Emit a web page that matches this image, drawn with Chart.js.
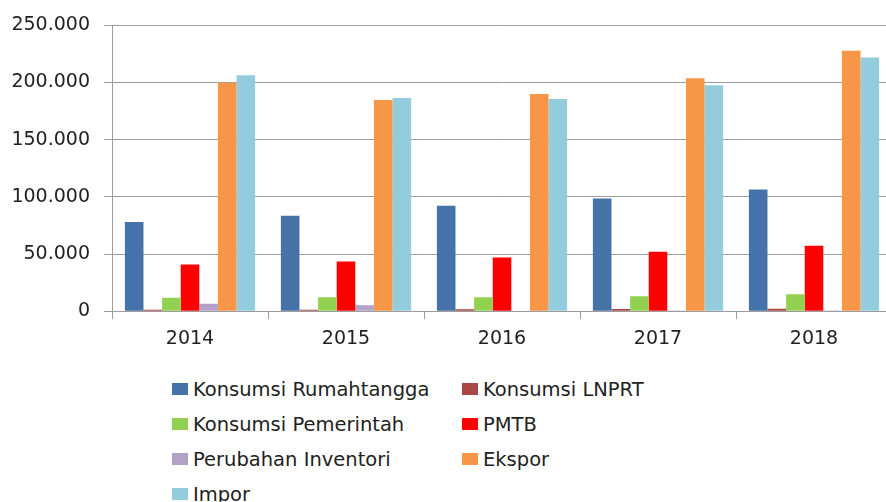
<!DOCTYPE html>
<html lang="id">
<head>
  <meta charset="UTF-8" />
  <title>Komponen PDRB 2014-2018</title>
  <script src="https://cdn.jsdelivr.net/npm/chart.js"></script>
  <style>
    html, body {
      margin: 0;
      padding: 0;
      background: #fff;
      overflow: hidden;
      font-family: "DejaVu Sans", sans-serif;
    }
    #grafik {
      position: absolute;
      left: 0;
      top: 0;
    }
    #legenda {
      position: absolute;
      left: 172px;
      top: 377px;
      display: grid;
      grid-template-columns: 290px 290px;
      grid-auto-rows: 35px;
      font-size: 19.5px;
      color: #222;
    }
    #legenda div {
      display: flex;
      align-items: center;
      height: 24px;
      white-space: nowrap;
    }
    #legenda span.kotak {
      display: inline-block;
      width: 16px;
      height: 12px;
      margin-right: 5px;
    }
  </style>
</head>
<body>
  <canvas id="grafik" width="900" height="360"></canvas>
  <div id="legenda"></div>

  <script>
    const tahun = ['2014', '2015', '2016', '2017', '2018'];

    const rumahtangga = [78000, 83500, 92300, 98600, 106500];
    const lnprt       = [1200, 1300, 1600, 2000, 2100];
    const pemerintah  = [11700, 12200, 12300, 13100, 14800];
    const pmtb        = [40800, 43400, 46900, 52100, 57300];
    const inventori   = [6500, 5200, 500, 700, 600];
    const ekspor      = [199900, 184800, 190000, 203700, 227800];
    const impor       = [206400, 186500, 185700, 197600, 222000];

    const seri = [
      { label: 'Konsumsi Rumahtangga', data: rumahtangga, warna: '#4572A7' },
      { label: 'Konsumsi LNPRT', data: lnprt, warna: '#AA4643' },
      { label: 'Konsumsi Pemerintah', data: pemerintah, warna: '#92D050' },
      { label: 'PMTB', data: pmtb, warna: '#FF0000' },
      { label: 'Perubahan Inventori', data: inventori, warna: '#B3A2C7' },
      { label: 'Ekspor', data: ekspor, warna: '#F79646' },
      { label: 'Impor', data: impor, warna: '#93CDDD' }
    ];

    const abu = '#9C9C9C';

    new Chart(document.getElementById('grafik'), {
      type: 'bar',
      data: {
        labels: tahun,
        datasets: seri.map(s => ({
          label: s.label,
          data: s.data,
          backgroundColor: s.warna,
          borderWidth: 0,
          categoryPercentage: 0.835,
          barPercentage: 1
        }))
      },
      options: {
        responsive: false,
        animation: false,
        layout: { padding: { top: 21, right: 8, bottom: 2, left: 0 } },
        plugins: {
          legend: { display: false },
          tooltip: { enabled: false }
        },
        scales: {
          x: {
            grid: {
              offset: true,
              drawOnChartArea: false,
              color: abu,
              tickLength: 8
            },
            border: { color: abu, width: 1 },
            ticks: {
              color: '#222',
              padding: 8,
              font: { family: 'DejaVu Sans', size: 19 }
            }
          },
          y: {
            min: 0,
            max: 250000,
            afterFit: s => { s.width = 112; },
            grid: { color: abu, tickLength: 8 },
            border: { color: abu, width: 1 },
            ticks: {
              stepSize: 50000,
              color: '#222',
              padding: 14,
              font: { family: 'DejaVu Sans', size: 19 },
              callback: v => v === 0 ? '0' : v.toLocaleString('id-ID')
            }
          }
        }
      }
    });

    // legenda dua kolom seperti di gambar
    const leg = document.getElementById('legenda');
    seri.forEach(s => {
      const d = document.createElement('div');
      d.innerHTML = `<span class="kotak" style="background:${s.warna}"></span>${s.label}`;
      leg.appendChild(d);
    });
  </script>
</body>
</html>
